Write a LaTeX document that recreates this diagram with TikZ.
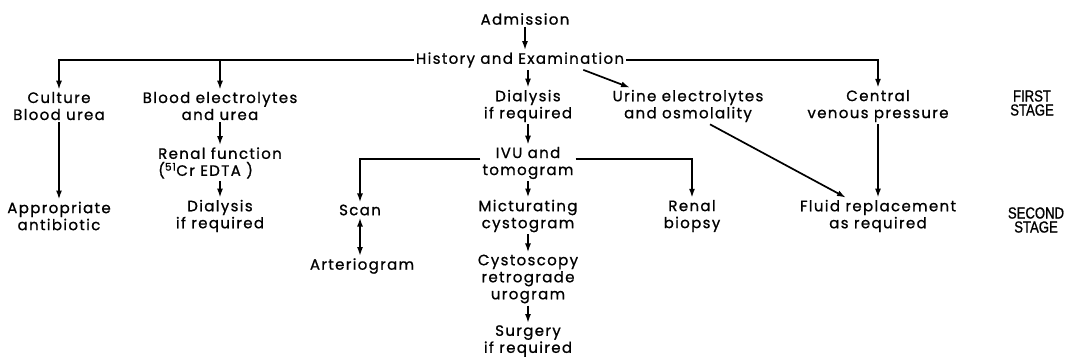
\documentclass[tikz,border=0pt]{standalone}
\usepackage{fontspec}
\setmainfont{Poppins}[LetterSpace=9,FakeBold=0.9]
\newfontfamily\stagefont{Liberation Sans}[FakeStretch=0.82,FakeBold=1]
\usetikzlibrary{arrows.meta}

\begin{document}
\begin{tikzpicture}[x=1pt,y=-1pt,
  every node/.style={font=\fontsize{15}{17}\selectfont, align=center, inner sep=2pt},
  arr/.style={-{Latex[length=9pt,width=6pt]}, line width=1.7pt},
  dblarr/.style={{Latex[length=9pt,width=6pt]}-{Latex[length=9pt,width=6pt]}, line width=1.7pt},
  stage/.style={font=\stagefont\fontsize{16}{14}\selectfont}]
\useasboundingbox (0,0) rectangle (1072,360);

% first stage
\node (adm) at (525,19) {Admission};
\node (hist) at (520,60) {History and Examination};
\node (cult) at (59,106) {Culture\\Blood urea};
\node (bel) at (220,106) {Blood electrolytes\\and urea};
\node (dia1) at (528,106) {Dialysis\\if required};
\node (urine) at (688,106) {Urine electrolytes\\and osmolality};
\node (cvp) at (878,106) {Central\\venous pressure};
\node[stage] (first) at (1032,103) {FIRST\\STAGE};
\node[align=left] (renal) at (220,163) {Renal function\\(\textsuperscript{51}Cr EDTA )};
\node (ivu) at (528,163) {IVU and\\tomogram};

% second stage
\node (antib) at (59,216) {Appropriate\\antibiotic};
\node (dia2) at (220,216) {Dialysis\\if required};
\node (scan) at (360,210) {Scan};
\node (mict) at (528,216) {Micturating\\cystogram};
\node (biop) at (692,216) {Renal\\biopsy};
\node (fluid) at (878,216) {Fluid replacement\\as required};
\node[stage] (second) at (1036,220) {SECOND\\STAGE};
\node (arter) at (362,266) {Arteriogram};
\node (cysto) at (528,279) {Cystoscopy\\retrograde\\urogram};
\node (surg) at (528,341) {Surgery\\if required};

\draw[arr] (adm.south) -- (adm.south |- hist.north);
\draw[arr] (hist.west) -| (cult.north);
\draw[arr] (hist.west -| bel.north) -- (bel.north);
\draw[arr] (hist.east) -| (cvp.north);
\draw[arr] ([xshift=-43pt]hist.south east) -- ([xshift=-58pt]urine.north);
\draw[arr] (hist.south -| dia1.north) -- (dia1.north);
\draw[arr] (dia1.south) -- (ivu.north);
\draw[arr] ([yshift=4pt]ivu.west) -| (scan.north);
\draw[arr] ([yshift=4pt]ivu.east) -| (biop.north);
\draw[arr] (ivu.south) -- (mict.north);
\draw[arr] (mict.south) -- (cysto.north);
\draw[arr] (cysto.south) -- (surg.north);
\draw[dblarr] (scan.south) -- (scan.south |- arter.north);
\draw[arr] (cult.south) -- (antib.north);
\draw[arr] (bel.south) -- (renal.north);
\draw[arr] (renal.south) -- (dia2.north);
\draw[arr] ([xshift=22pt]urine.south) -- ([xshift=-32pt]fluid.north);
\draw[arr] (cvp.south) -- (fluid.north);
\end{tikzpicture}
\end{document}
